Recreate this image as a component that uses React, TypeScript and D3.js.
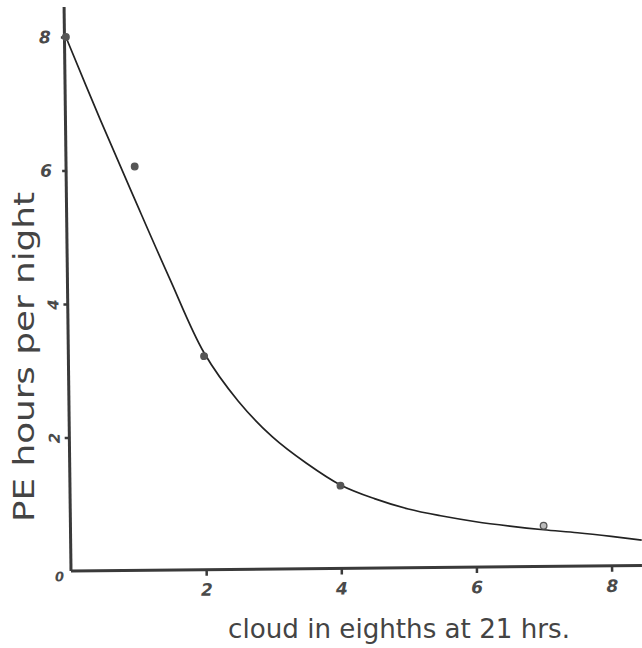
import React, { useEffect, useRef } from "react";
import * as d3 from "d3";

// measured points (cloud in eighths, PE hours per night)
const obsCloud = [0, 1.0, 2, 4, 7];
const obsHours = [8.0, 6.05, 3.2, 1.24, 0.61];

// hand-drawn fitted curve, every half eighth
const curveCloud = [0, 0.5, 1.0, 1.5, 2.0, 2.5, 3.0, 3.5, 4.0, 4.5, 5.0, 5.5, 6.0, 6.5, 7.0, 7.5, 8.0, 8.45];
const curveHours = [8.0, 6.75, 5.55, 4.37, 3.25, 2.52, 1.98, 1.58, 1.25, 1.04, 0.88, 0.77, 0.68, 0.61, 0.55, 0.5, 0.44, 0.38];

const xTicks = [2, 4, 6, 8];
const yTicks = [2, 4, 6, 8];
const sidewaysTicks = [2, 4]; // lettered sideways on the original

const xTitle = "cloud in eighths at 21 hrs.";
const yTitle = "PE hours per night";

export default function App() {
  const ref = useRef<SVGSVGElement | null>(null);

  useEffect(() => {
    const svg = d3.select(ref.current);
    svg.selectAll("*").remove();

    const ink = "#3a3a3a";
    const pencil = "#4a4a4a";

    const x = d3.scaleLinear().domain([0, 8.45]).range([71, 642]);
    const y = d3.scaleLinear().domain([0, 8]).range([571, 37]);

    // the sheet is a little skewed on the scan
    const g = svg
      .append("g")
      .attr("transform", `rotate(-0.55, ${x(0)}, ${y(0)})`);

    // x axis
    const xAxis = g
      .append("g")
      .attr("transform", `translate(0, ${y(0)})`)
      .call(
        d3
          .axisBottom(x)
          .tickValues(xTicks)
          .tickSizeInner(6)
          .tickSizeOuter(0)
          .tickPadding(8)
          .tickFormat(d3.format("d"))
      );
    xAxis.select(".domain").remove();

    // y axis
    const yAxis = g
      .append("g")
      .attr("transform", `translate(${x(0)}, 0)`)
      .call(
        d3
          .axisLeft(y)
          .tickValues(yTicks)
          .tickSizeInner(5)
          .tickSizeOuter(0)
          .tickPadding(10)
          .tickFormat(d3.format("d"))
      );
    yAxis.select(".domain").remove();

    [xAxis, yAxis].forEach((ax) => {
      ax.selectAll(".tick line").attr("stroke", ink).attr("stroke-width", 2.5);
      ax.selectAll(".tick text")
        .attr("fill", pencil)
        .style("font-family", "'DejaVu Sans', sans-serif")
        .style("font-style", "italic")
        .style("font-weight", "bold")
        .style("font-size", "17px");
    });

    yAxis
      .selectAll<SVGTextElement, number>(".tick text")
      .filter((d) => sidewaysTicks.includes(d))
      .attr("dy", null)
      .attr("x", -17)
      .attr("y", 2)
      .attr("text-anchor", "middle")
      .attr("dominant-baseline", "central")
      .attr("transform", "rotate(-90, -17, 0)")
      .style("font-size", "15px");

    // axis lines
    g.append("line")
      .attr("x1", x(0))
      .attr("x2", x(8.45))
      .attr("y1", y(0))
      .attr("y2", y(0))
      .attr("stroke", ink)
      .attr("stroke-width", 3);

    g.append("line")
      .attr("x1", x(0))
      .attr("x2", x(0) - 1.5)
      .attr("y1", y(0))
      .attr("y2", y(8.45))
      .attr("stroke", ink)
      .attr("stroke-width", 3);

    // origin label
    g.append("text")
      .attr("x", x(0) - 7)
      .attr("y", y(0) + 10)
      .attr("text-anchor", "end")
      .attr("fill", pencil)
      .style("font-family", "'DejaVu Sans', sans-serif")
      .style("font-style", "italic")
      .style("font-weight", "bold")
      .style("font-size", "13px")
      .text("0");

    // fitted curve
    const line = d3
      .line<number>()
      .x((d, i) => x(curveCloud[i]))
      .y((d) => y(d))
      .curve(d3.curveCatmullRom.alpha(0.5));

    g.append("path")
      .datum(curveHours)
      .attr("d", line)
      .attr("fill", "none")
      .attr("stroke", "#222")
      .attr("stroke-width", 1.7);

    // observations
    g.append("g")
      .selectAll("circle")
      .data(obsHours)
      .enter()
      .append("circle")
      .attr("cx", (d, i) => x(obsCloud[i]))
      .attr("cy", (d) => y(d))
      .attr("r", 3.3)
      .attr("fill", (d, i) => (i === obsHours.length - 1 ? "#bbb" : "#555"))
      .attr("stroke", "#555")
      .attr("stroke-width", 1.3);

    // titles
    svg
      .append("text")
      .attr("x", 228)
      .attr("y", 638)
      .attr("textLength", 342)
      .attr("lengthAdjust", "spacingAndGlyphs")
      .attr("fill", "#444")
      .style("font-family", "'DejaVu Sans Condensed', 'DejaVu Sans', sans-serif")
      .style("font-size", "27px")
      .text(xTitle);

    svg
      .append("text")
      .attr("transform", "translate(34, 522) rotate(-90)")
      .attr("x", 0)
      .attr("y", 0)
      .attr("textLength", 330)
      .attr("lengthAdjust", "spacingAndGlyphs")
      .attr("fill", "#444")
      .style("font-family", "'DejaVu Sans Condensed', 'DejaVu Sans', sans-serif")
      .style("font-size", "29px")
      .text(yTitle);
  }, []);

  return (
    <svg
      ref={ref}
      width={642}
      height={648}
      style={{ position: "absolute", left: 0, top: 0, background: "#fff" }}
    />
  );
}
